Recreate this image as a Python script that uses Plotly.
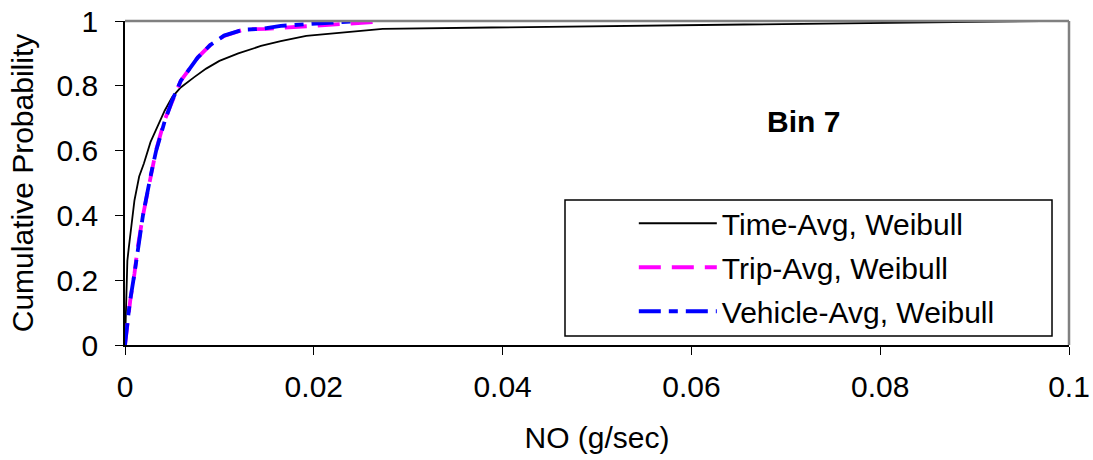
import plotly.graph_objects as go

# Time-Avg, Weibull (black solid)
time_x = [0, 0.00015, 0.00025, 0.0004, 0.00063, 0.001, 0.0015, 0.002, 0.0027, 0.0035,
          0.0042, 0.005, 0.0059, 0.0073, 0.0086, 0.010, 0.0120, 0.0144, 0.0165, 0.0192,
          0.0230, 0.0273, 0.097]
time_y = [0, 0.20, 0.26, 0.30, 0.354, 0.446, 0.52, 0.56, 0.626, 0.68,
          0.723, 0.765, 0.795, 0.826, 0.853, 0.877, 0.90, 0.923, 0.938, 0.954,
          0.965, 0.976, 1.0]

# Trip-Avg, Weibull (magenta dashed)
trip_x = [0, 0.0003, 0.00056, 0.001, 0.00134, 0.00187, 0.00267, 0.00328, 0.00416, 0.00504,
          0.0059, 0.0077, 0.0090, 0.0105, 0.0126, 0.0150, 0.0185, 0.0220, 0.0265]
trip_y = [0, 0.077, 0.138, 0.22, 0.30, 0.395, 0.518, 0.60, 0.692, 0.754,
          0.815, 0.887, 0.925, 0.954, 0.974, 0.976, 0.982, 0.990, 0.997]

# Vehicle-Avg, Weibull (blue dash-dot)
veh_x = [0, 0.0002, 0.0005, 0.001, 0.0014, 0.0019, 0.0027, 0.0033, 0.0042, 0.005,
         0.0059, 0.0077, 0.009, 0.0105, 0.0125, 0.0145, 0.0165, 0.0195, 0.0225, 0.0247]
veh_y = [0, 0.06, 0.13, 0.22, 0.31, 0.40, 0.52, 0.60, 0.69, 0.755,
         0.815, 0.887, 0.925, 0.955, 0.973, 0.976, 0.985, 0.991, 0.996, 1.0]

x_ticks = [0, 0.02, 0.04, 0.06, 0.08, 0.1]
x_tick_labels = ["0", "0.02", "0.04", "0.06", "0.08", "0.1"]
y_ticks = [0, 0.2, 0.4, 0.6, 0.8, 1.0]
y_tick_labels = ["0", "0.2", "0.4", "0.6", "0.8", "1"]

FONT = "Arial, Liberation Sans, sans-serif"

fig = go.Figure()
fig.add_trace(go.Scatter(x=time_x, y=time_y, mode="lines", name="Time-Avg, Weibull",
                         legendgroup="a",
                         line=dict(color="black", width=1.8)))
fig.add_trace(go.Scatter(x=trip_x, y=trip_y, mode="lines", name="Trip-Avg, Weibull",
                         legendgroup="b",
                         line=dict(color="#FF00FF", width=3.8, dash="22px,11px")))
fig.add_trace(go.Scatter(x=veh_x, y=veh_y, mode="lines", name="Vehicle-Avg, Weibull",
                         legendgroup="c",
                         line=dict(color="#0000FF", width=3.8, dash="22px,8px,9px,8px")))

fig.update_layout(
    width=1093, height=460,
    margin=dict(l=125, r=24, t=21, b=115, autoexpand=False),
    paper_bgcolor="white", plot_bgcolor="white",
    font=dict(family=FONT, size=30, color="black"),
    showlegend=True,
    legend=dict(x=0.539, y=0.456, xanchor="left", yanchor="top",
                bgcolor="rgba(0,0,0,0)", borderwidth=0,
                font=dict(family=FONT, size=30, color="black"),
                itemwidth=78, tracegroupgap=2),
    xaxis=dict(range=[0, 0.1], tickvals=x_ticks, ticktext=x_tick_labels,
               automargin=False, ticklabeloverflow="allow",
               showgrid=False, zeroline=False, showline=True, linecolor="black",
               linewidth=1.5, ticks="outside", ticklen=8, tickcolor="black",
               tickwidth=1.2, ticklabelstandoff=6,
               title=dict(text="NO (g/sec)", standoff=25,
                          font=dict(family=FONT, size=30))),
    yaxis=dict(range=[0, 1], tickvals=y_ticks, ticktext=y_tick_labels,
               automargin=False, ticklabeloverflow="allow",
               showgrid=False, zeroline=False, showline=True, linecolor="black",
               linewidth=1.5, ticks="outside", ticklen=8, tickcolor="black",
               tickwidth=1.2, ticklabelstandoff=11,
               title=dict(text="Cumulative Probability", standoff=14,
                          font=dict(family=FONT, size=30))),
    shapes=[
        dict(type="line", xref="paper", yref="paper", x0=0, x1=1, y0=1, y1=1,
             line=dict(color="#808080", width=2.5)),
        dict(type="line", xref="paper", yref="paper", x0=1, x1=1, y0=0, y1=1,
             line=dict(color="#808080", width=2.5)),
        dict(type="rect", xref="paper", yref="paper", x0=0.4661, x1=0.982,
             y0=0.0278, y1=0.4475, line=dict(color="black", width=1.5),
             fillcolor="white", layer="below"),
    ],
    annotations=[
        dict(x=0.0719, y=0.69, xref="x", yref="y", text="<b>Bin 7</b>",
             showarrow=False, font=dict(family=FONT, size=30, color="black")),
    ],
)

fig.write_html("out.html",
               config={"displayModeBar": False},
               post_script="document.body.style.margin='0';")
